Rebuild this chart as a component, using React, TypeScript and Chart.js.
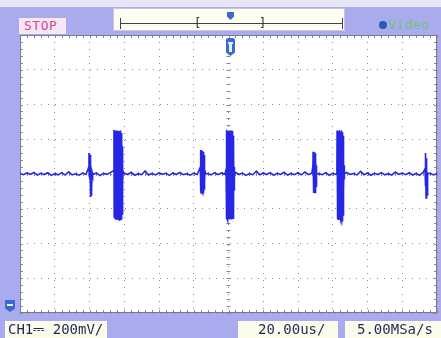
import React, { useEffect, useRef } from "react";
import { Chart, registerables } from "chart.js";

Chart.register(...registerables);

// time axis: 12 divisions of 20 us; voltage axis: 8 divisions of 200 mV
const timeMinUs = 0;
const timeMaxUs = 240;
const timeDivUs = 20;
const voltMinMv = -800;
const voltMaxMv = 800;
const voltDivMv = 200;

// baseline samples every 2 us from 0 to 240 us (mV)
const baseStepUs = 2;
const baselineMv = [
  3, -4, 6, -2, 9, -6, 4, -3, 7, -8,
  2, -5, 8, -6, 12, -5, 1, -7, 5, -3,
  0, -4, 6, -9, 4, -2, 8, -5, 3, -6,
  5, -3, 10, -7, 2, -4, 18, -6, 3, -5,
  7, -2, 4, -8, 6, -3, 9, -4, 2, -7,
  5, -3, 14, -6, 3, -5, 8, -4, 6, -2,
  4, -6, 9, -3, 5, -8, 2, -4, 16, -5,
  6, -3, 8, -7, 4, -2, 10, -6, 3, -4,
  7, -5, 12, -3, 5, -6, 2, -4, 8, -7,
  4, -3, 6, -8, 9, -2, 3, -5, 15, -4,
  6, -7, 4, -3, 8, -5, 2, -6, 11, -2,
  5, -4, 7, -6, 3, -8, 10, -3, 4, -5,
  2,
];

// bursts: start time (us) and samples every 0.1 us (mV)
const burstStepUs = 0.1;
const burstStartUs = [39.6, 54.0, 103.8, 118.6, 168.6, 182.4, 233.1];
const burst1Mv = [
  40, 121, -10, 118, 5, 115, -20, 110, -60, 90,
  -132, 30, -128, -10, -125, 15, -120, -5, -90, 10, 0,
];
const burst2Mv = [
  20, 253, -240, 230, -255, 245, -250, 235, -262, 240,
  -258, 250, -245, 225, -265, 240, -250, 230, -255, 250,
  -262, 238, -248, 228, -260, 246, -252, 232, -258, 244,
  -264, 236, -250, 228, -256, 248, -262, 240, -246, 230,
  -258, 250, -240, 220, -262, 236, -250, 200, -230, 160,
  -180, 90, -60, 20, 0,
];
const burst3Mv = [
  40, 138, -100, 135, -109, 130, -105, 136, -108, 128,
  -102, 132, -109, 125, -104, 130, -106, 126, -100, 120,
  -98, 110, -90, 95, -70, 60, -40, 20, 0,
];
const burst4Mv = [
  30, 255, -230, 250, -262, 240, -255, 232, -250, 248,
  -265, 230, -240, 245, -258, 236, -250, 250, -240, 238,
  -262, 228, -255, 246, -248, 240, -260, 234, -252, 250,
  -244, 226, -262, 242, -250, 236, -258, 248, -240, 230,
  -255, 220, -230, 180, -200, 120, -90, 40, -20, 0,
];
const burst5Mv = [
  50, 128, -105, 125, -109, 127, -100, 122, -108, 118,
  -104, 125, -106, 120, -100, 110, -95, 90, -70, 50,
  -30, 15, 0,
];
const burst6Mv = [
  30, 250, -245, 236, -262, 244, -255, 240, -265, 232,
  -250, 246, -260, 230, -245, 240, -258, 252, -248, 236,
  -262, 228, -254, 244, -250, 238, -262, 232, -246, 250,
  -256, 226, -260, 240, -248, 220, -240, 180, -200, 120,
  -90, 50, -30, 10, 0,
];
const burst7Mv = [
  30, 80, -60, 121, -70, 110, -138, 90, -130, 60,
  -135, 30, -120, 10, -80, 5, -20, 0,
];
const burstMv = [burst1Mv, burst2Mv, burst3Mv, burst4Mv, burst5Mv, burst6Mv, burst7Mv];

const traceColor = "#2626e4";
const lavender = "#aaaaee";
const panel = "#fbfbea";

function buildTrace() {
  const pts: { x: number; y: number }[] = [];
  const ranges = burstStartUs.map((s, i) => [s, s + (burstMv[i].length - 1) * burstStepUs]);
  baselineMv.forEach((v, i) => {
    const t = timeMinUs + i * baseStepUs;
    if (!ranges.some(([a, b]) => t >= a && t <= b)) pts.push({ x: t, y: v });
  });
  burstMv.forEach((arr, i) => {
    arr.forEach((v, j) => pts.push({ x: burstStartUs[i] + j * burstStepUs, y: v }));
  });
  pts.sort((a, b) => a.x - b.x);
  return pts;
}

const scopePlugin = {
  id: "scopeFrame",
  beforeDraw(chart: any) {
    const { ctx, chartArea: a } = chart;
    ctx.save();
    ctx.fillStyle = "#ffffff";
    ctx.fillRect(a.left, a.top, a.right - a.left, a.bottom - a.top);
    ctx.restore();
  },
  beforeDatasetsDraw(chart: any) {
    const { ctx, chartArea: a, scales } = chart;
    const xs = scales.x;
    const ys = scales.y;
    ctx.save();
    ctx.strokeStyle = "#8a8a9a";
    ctx.lineWidth = 1;
    ctx.beginPath();
    const cy = ys.getPixelForValue(0);
    const cx = xs.getPixelForValue((timeMinUs + timeMaxUs) / 2);
    for (let t = timeMinUs; t <= timeMaxUs; t += timeDivUs / 5) {
      const px = Math.round(xs.getPixelForValue(t)) + 0.5;
      ctx.moveTo(px, a.top); ctx.lineTo(px, a.top + 3);
      ctx.moveTo(px, a.bottom); ctx.lineTo(px, a.bottom - 3);
      ctx.moveTo(px, cy - 2); ctx.lineTo(px, cy + 2);
    }
    for (let v = voltMinMv; v <= voltMaxMv; v += voltDivMv / 5) {
      const py = Math.round(ys.getPixelForValue(v)) + 0.5;
      ctx.moveTo(a.left, py); ctx.lineTo(a.left + 3, py);
      ctx.moveTo(a.right, py); ctx.lineTo(a.right - 3, py);
      ctx.moveTo(cx - 2, py); ctx.lineTo(cx + 2, py);
    }
    ctx.stroke();
    ctx.strokeStyle = "#7a7a8a";
    ctx.strokeRect(a.left + 0.5, a.top + 0.5, a.right - a.left - 1, a.bottom - a.top - 1);
    ctx.restore();
  },
};

const mono = "'DejaVu Sans Mono', monospace";

export default function App() {
  const ref = useRef<HTMLCanvasElement>(null);
  useEffect(() => {
    document.body.style.margin = "0";
    const chart = new Chart(ref.current!, {
      type: "line",
      data: {
        datasets: [
          {
            label: "CH1",
            data: buildTrace(),
            borderColor: traceColor,
            borderWidth: 1.6,
            pointRadius: 0,
            tension: 0,
          },
        ],
      },
      options: {
        animation: false,
        responsive: false,
        maintainAspectRatio: false,
        layout: { padding: { left: 20, right: 4, top: 35, bottom: 25 } },
        plugins: { legend: { display: false }, tooltip: { enabled: false } },
        scales: {
          x: {
            type: "linear",
            min: timeMinUs,
            max: timeMaxUs,
            ticks: { display: false, stepSize: timeDivUs },
            grid: { color: "#8a8a9a", drawTicks: false, lineWidth: 1 },
            border: { display: false, dash: [1, 6], dashOffset: 0 },
            afterFit: (s: any) => { s.height = 0; },
          },
          y: {
            type: "linear",
            min: voltMinMv,
            max: voltMaxMv,
            ticks: { display: false, stepSize: voltDivMv },
            grid: { color: "#8a8a9a", drawTicks: false, lineWidth: 1 },
            border: { display: false, dash: [1, 6], dashOffset: 0 },
            afterFit: (s: any) => { s.width = 0; },
          },
        },
      },
      plugins: [scopePlugin],
    });
    return () => chart.destroy();
  }, []);

  const box = (extra: React.CSSProperties): React.CSSProperties => ({
    position: "absolute",
    fontFamily: mono,
    whiteSpace: "nowrap",
    boxSizing: "border-box",
    ...extra,
  });

  return (
    <div style={{ position: "fixed", left: 0, top: 0, width: 441, height: 338, background: lavender, overflow: "hidden" }}>
      <div style={{ position: "absolute", left: 0, top: 0, width: 441, height: 7, background: "#e6e6f6" }} />
      <canvas ref={ref} width={441} height={338} style={{ position: "absolute", left: 0, top: 0, width: 441, height: 338 }} />
      {/* STOP */}
      <div style={box({ left: 19, top: 18, width: 47, height: 16, background: "#f6e8f2", color: "#d8489c", fontSize: 13, lineHeight: "16px", paddingLeft: 5, letterSpacing: 0.5 })}>STOP</div>
      {/* timebase bar */}
      <div style={box({ left: 113, top: 8, width: 232, height: 23, background: "#fdfdf2", border: "1px solid #c8c8d8" })}>
        <div style={{ position: "absolute", left: 6, top: 14, width: 223, height: 1, background: "#404050" }} />
        <div style={{ position: "absolute", left: 6, top: 9, width: 1, height: 11, background: "#404050" }} />
        <div style={{ position: "absolute", left: 228, top: 9, width: 1, height: 11, background: "#404050" }} />
        <div style={box({ left: 80, top: 5, fontSize: 12, lineHeight: "18px", color: "#303040" })}>[</div>
        <div style={box({ left: 145, top: 5, fontSize: 12, lineHeight: "18px", color: "#303040" })}>]</div>
        <div style={{ position: "absolute", left: 113, top: 3, width: 7, height: 8, background: "#3a6ad0", clipPath: "polygon(0 0,100% 0,100% 55%,50% 100%,0 55%)" }} />
      </div>
      {/* trigger marker */}
      <div style={{ position: "absolute", left: 226, top: 38, width: 9, height: 18, background: "#3a6ad0", borderRadius: 2, clipPath: "polygon(0 0,100% 0,100% 80%,50% 100%,0 80%)" }} />
      <div style={{ position: "absolute", left: 229, top: 42, width: 3, height: 10, background: "#e8f0ff" }} />
      <div style={{ position: "absolute", left: 228, top: 42, width: 5, height: 2, background: "#e8f0ff" }} />
      {/* Video */}
      <div style={{ position: "absolute", left: 379, top: 21, width: 8, height: 8, borderRadius: 4, background: "#2a5ab0" }} />
      <div style={box({ left: 388, top: 17, fontSize: 13, lineHeight: "16px", color: "#6cc86c", letterSpacing: 0.5 })}>Video</div>
      {/* ground marker */}
      <div style={{ position: "absolute", left: 5, top: 300, width: 10, height: 12, background: "#3a6ad0", clipPath: "polygon(0 0,100% 0,100% 70%,50% 100%,0 70%)" }} />
      <div style={{ position: "absolute", left: 7, top: 304, width: 6, height: 2, background: "#e8f0ff" }} />
      {/* bottom panels */}
      <div style={box({ left: 5, top: 321, width: 102, height: 17, background: panel, color: "#1c2a5a", fontSize: 14, lineHeight: "17px", paddingLeft: 3 })}>CH1⎓ 200mV/</div>
      <div style={box({ left: 238, top: 321, width: 100, height: 17, background: panel, color: "#1c2a5a", fontSize: 14, lineHeight: "17px", paddingLeft: 20 })}>20.00us/</div>
      <div style={box({ left: 345, top: 321, width: 96, height: 17, background: panel, color: "#1c2a5a", fontSize: 14, lineHeight: "17px", paddingLeft: 12 })}>5.00MSa/s</div>
    </div>
  );
}
